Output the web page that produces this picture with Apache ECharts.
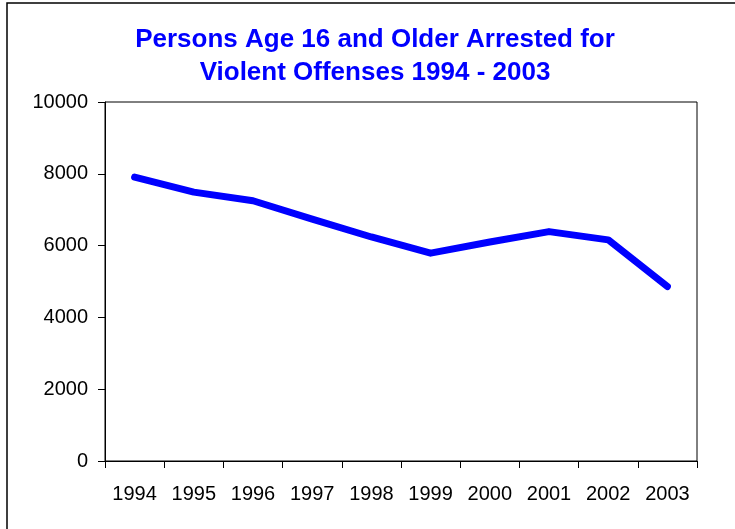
<!DOCTYPE html>
<html>
<head>
<meta charset="utf-8">
<script src="https://cdn.jsdelivr.net/npm/echarts@6/dist/echarts.min.js"></script>
<style>
  html, body { margin: 0; padding: 0; background: #fff; }
  #chart { width: 735px; height: 529px; }
</style>
</head>
<body>
<div id="chart"></div>
<script>
// Yearly counts of persons aged 16+ arrested for violent offenses
const years = ['1994', '1995', '1996', '1997', '1998', '1999', '2000', '2001', '2002', '2003'];
const arrests = [7910, 7490, 7250, 6740, 6240, 5790, 6100, 6390, 6160, 4860];
const titleLines = ['Persons Age 16 and Older Arrested for', 'Violent Offenses 1994 - 2003'];

const chart = echarts.init(document.getElementById('chart'), null, { renderer: 'canvas' });
const baseFont = 'Liberation Sans, Arial, Helvetica, sans-serif';

chart.setOption({
  backgroundColor: '#ffffff',
  animation: false,
  title: {
    text: titleLines.join('\n'),
    left: 375,
    top: 23,
    padding: 0,
    textAlign: 'center',
    textStyle: {
      color: '#0000ff',
      fontFamily: baseFont,
      fontWeight: 'bold',
      fontSize: 26,
      lineHeight: 33
    }
  },
  graphic: [{
    type: 'rect',
    shape: { x: 7, y: 3, width: 800, height: 600 },
    style: { fill: null, stroke: '#000', lineWidth: 1.5 },
    silent: true
  }],
  grid: {
    left: 105,
    right: 38,
    top: 102,
    bottom: 68,
    show: true,
    borderColor: '#000',
    borderWidth: 1,
    backgroundColor: 'transparent'
  },
  xAxis: {
    type: 'category',
    data: years,
    boundaryGap: true,
    axisLine: { show: true, lineStyle: { color: '#000', width: 1 } },
    axisTick: { show: true, inside: false, length: 7, alignWithLabel: false, interval: 0, lineStyle: { color: '#000' } },
    axisLabel: { interval: 0, margin: 23, color: '#000', fontFamily: baseFont, fontSize: 20 },
    splitLine: { show: false }
  },
  yAxis: {
    type: 'value',
    min: 0,
    max: 10000,
    interval: 2000,
    axisLine: { show: true, lineStyle: { color: '#000', width: 1 } },
    axisTick: { show: true, inside: false, length: 7, lineStyle: { color: '#000' } },
    axisLabel: {
      margin: 17,
      color: '#000',
      fontFamily: baseFont,
      fontSize: 20,
      formatter: (v) => String(v)
    },
    splitLine: { show: false }
  },
  series: [{
    type: 'line',
    data: arrests,
    showSymbol: false,
    symbol: 'none',
    lineStyle: { color: '#0000ff', width: 7, cap: 'round', join: 'round' },
    z: 3
  }]
});
</script>
</body>
</html>
